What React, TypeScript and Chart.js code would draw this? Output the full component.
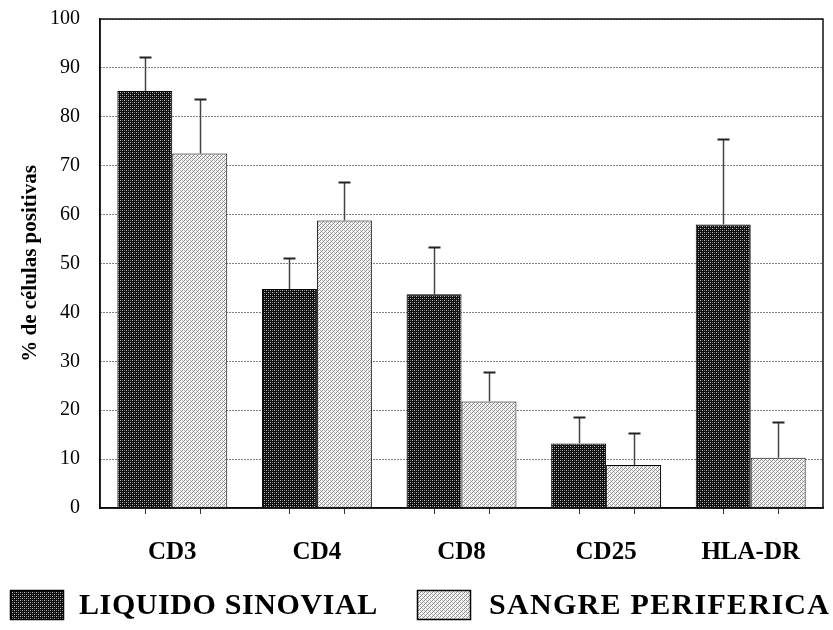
import React, { useEffect, useRef } from "react";
import { Chart, registerables } from "chart.js";

Chart.register(...registerables);

const categories = ["CD3", "CD4", "CD8", "CD25", "HLA-DR"];
const liquidoValues = [85.3, 44.8, 43.7, 13.2, 58.0];
const liquidoErrors = [7.0, 6.3, 9.6, 5.5, 17.4];
const sangreValues = [72.5, 58.8, 21.8, 8.8, 10.3];
const sangreErrors = [11.2, 7.8, 6.1, 6.6, 7.2];
const yTicks = [0, 10, 20, 30, 40, 50, 60, 70, 80, 90, 100];
const legendLabels = ["LIQUIDO SINOVIAL", "SANGRE PERIFERICA"];

const SERIF = "'Liberation Serif', 'Times New Roman', serif";

function makePattern(dark: boolean): CanvasPattern | string {
  const c = document.createElement("canvas");
  c.width = 4;
  c.height = 4;
  const g = c.getContext("2d");
  if (!g) return dark ? "#222" : "#ccc";
  if (dark) {
    g.fillStyle = "#0c0c0c";
    g.fillRect(0, 0, 4, 4);
    g.fillStyle = "#c4c4c4";
    g.fillRect(0, 0, 1, 1);
    g.fillRect(2, 2, 1, 1);
    g.fillStyle = "#6a6a6a";
    g.fillRect(2, 0, 1, 1);
    g.fillRect(0, 2, 1, 1);
  } else {
    g.fillStyle = "#f6f6f6";
    g.fillRect(0, 0, 4, 4);
    g.fillStyle = "#8a8a8a";
    g.fillRect(0, 0, 1, 1);
    g.fillRect(2, 2, 1, 1);
    g.fillRect(1, 3, 1, 1);
    g.fillRect(3, 1, 1, 1);
    g.fillStyle = "#b8b8b8";
    g.fillRect(2, 0, 1, 1);
    g.fillRect(0, 2, 1, 1);
  }
  const p = g.createPattern(c, "repeat");
  return p || (dark ? "#222" : "#ccc");
}

const errorBarPlugin = {
  id: "errorBars",
  afterDatasetsDraw(chart: any) {
    const ctx = chart.ctx;
    const yScale = chart.scales.y;
    const errs = [liquidoErrors, sangreErrors];
    const vals = [liquidoValues, sangreValues];
    ctx.save();
    chart.data.datasets.forEach((_: any, i: number) => {
      const meta = chart.getDatasetMeta(i);
      meta.data.forEach((el: any, j: number) => {
        const x = Math.round(el.x) + 0.5;
        const yb = yScale.getPixelForValue(vals[i][j]);
        const yt = Math.round(yScale.getPixelForValue(vals[i][j] + errs[i][j])) + 0.5;
        ctx.strokeStyle = "#444";
        ctx.lineWidth = 1.5;
        ctx.beginPath();
        ctx.moveTo(x, yb);
        ctx.lineTo(x, yt);
        ctx.stroke();
        ctx.strokeStyle = "#222";
        ctx.lineWidth = 2;
        ctx.beginPath();
        ctx.moveTo(x - 6, yt);
        ctx.lineTo(x + 6, yt);
        ctx.stroke();
        const y0 = yScale.getPixelForValue(0);
        ctx.strokeStyle = "#333";
        ctx.lineWidth = 1;
        ctx.beginPath();
        ctx.moveTo(x, y0);
        ctx.lineTo(x, y0 + 6);
        ctx.stroke();
      });
    });
    ctx.restore();
  },
};

const framePlugin = {
  id: "frame",
  afterDraw(chart: any) {
    const { left, right, top, bottom } = chart.chartArea;
    const ctx = chart.ctx;
    ctx.save();
    ctx.strokeStyle = "#111";
    ctx.lineWidth = 1.5;
    ctx.strokeRect(left, top, right - left, bottom - top);
    ctx.restore();
  },
};

const bottomLegendPlugin = {
  id: "bottomLegend",
  afterDraw(chart: any) {
    const ctx = chart.ctx;
    const h = chart.height;
    const items = [
      { boxX: 10, textX: 79 },
      { boxX: 417, textX: 489 },
    ];
    ctx.save();
    chart.data.datasets.forEach((ds: any, i: number) => {
      const it = items[i];
      const cy = h - 25;
      ctx.fillStyle = ds.backgroundColor;
      ctx.fillRect(it.boxX, cy - 15, 54, 30);
      ctx.strokeStyle = "#000";
      ctx.lineWidth = 1.5;
      ctx.strokeRect(it.boxX + 0.5, cy - 15 + 0.5, 53, 29);
      ctx.fillStyle = "#000";
      ctx.font = `bold 30px ${SERIF}`;
      (ctx as any).letterSpacing = i === 0 ? "0.6px" : "1.3px";
      ctx.textBaseline = "middle";
      ctx.textAlign = "left";
      ctx.fillText(legendLabels[i], it.textX, cy + 1);
    });
    ctx.restore();
  },
};

export default function App() {
  const ref = useRef<HTMLCanvasElement | null>(null);
  useEffect(() => {
    if (!ref.current) return;
    const dark = makePattern(true);
    const light = makePattern(false);
    const chart = new Chart(ref.current, {
      type: "bar",
      data: {
        labels: categories,
        datasets: [
          {
            label: legendLabels[0],
            data: liquidoValues,
            backgroundColor: dark as any,
            borderColor: "#000",
            borderWidth: 1,
          },
          {
            label: legendLabels[1],
            data: sangreValues,
            backgroundColor: light as any,
            borderColor: "#000",
            borderWidth: 1,
          },
        ],
      },
      options: {
        animation: false,
        responsive: false,
        maintainAspectRatio: false,
        layout: { padding: { left: 14, right: 10, top: 19, bottom: 62 } },
        datasets: { bar: { categoryPercentage: 0.76, barPercentage: 1.0 } },
        plugins: {
          tooltip: { enabled: false },
          legend: { display: false },
        },
        scales: {
          x: {
            grid: { display: false, drawTicks: false },
            border: { display: true, color: "#000", width: 1.5 },
            ticks: {
              color: "#000",
              padding: 30,
              font: { family: SERIF, size: 25, weight: "bold" },
            },
            afterFit: (scale: any) => {
              scale.height = 60;
              scale.paddingLeft = 0;
              scale.paddingRight = 0;
            },
          },
          y: {
            min: 0,
            max: 100,
            afterBuildTicks: (axis: any) => {
              axis.ticks = yTicks.map((v) => ({ value: v }));
            },
            afterFit: (scale: any) => {
              scale.width = 86;
              scale.paddingTop = 0;
              scale.paddingBottom = 0;
            },
            grid: {
              color: "#000",
              lineWidth: 1,
              drawTicks: false,
            },
            border: { display: true, color: "#000", width: 1.5, dash: [1, 2] },
            ticks: {
              color: "#000",
              padding: 20,
              font: { family: SERIF, size: 20 },
            },
            title: {
              display: true,
              text: "% de células positivas",
              color: "#000",
              padding: { top: 4, bottom: 4 },
              font: { family: SERIF, size: 21, weight: "bold" },
            },
          },
        },
      } as any,
      plugins: [errorBarPlugin, framePlugin, bottomLegendPlugin],
    });
    return () => chart.destroy();
  }, []);
  return (
    <div style={{ position: "fixed", left: 0, top: 0, width: 833, height: 630, background: "#fff" }}>
      <canvas ref={ref} width={833} height={630} />
    </div>
  );
}
